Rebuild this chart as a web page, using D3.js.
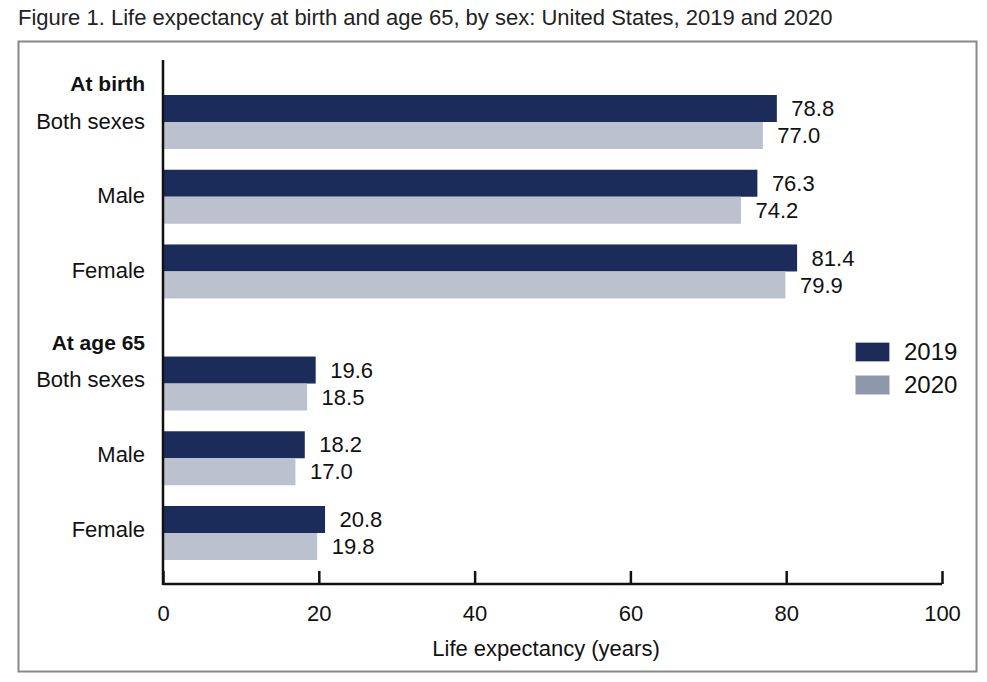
<!DOCTYPE html>
<html><head><meta charset="utf-8">
<script src="https://cdn.jsdelivr.net/npm/d3@7"></script>
<style>body{margin:0;background:#fff;} text{font-family:"Liberation Sans",Arial,sans-serif;}</style>
</head><body>
<svg id="c" width="987" height="682"></svg>
<script>
const sections = ["At birth", "At age 65"];
const categories = ["Both sexes", "Male", "Female"];
const years = ["2019", "2020"];
const values2019 = [[78.8, 76.3, 81.4], [19.6, 18.2, 20.8]];
const values2020 = [[77.0, 74.2, 79.9], [18.5, 17.0, 19.8]];
const xTicks = [0, 20, 40, 60, 80, 100];
const barColors = {"2019": "#1b2c5a", "2020": "#bcc1ce"};
const legendColors = {"2019": "#1b2c5a", "2020": "#8f97ad"};

const svg = d3.select("#c");
svg.append("text").attr("x", 18).attr("y", 25).attr("font-size", 22).attr("fill", "#222")
  .text("Figure 1. Life expectancy at birth and age 65, by sex: United States, 2019 and 2020");
svg.append("rect").attr("x", 18.5).attr("y", 41.5).attr("width", 958).attr("height", 630)
  .attr("fill", "none").attr("stroke", "#888").attr("stroke-width", 2);

const x = d3.scaleLinear().domain([0, 100]).range([163, 942]);
// slot index per row: sections separated by an extra half step
const rows = [];
sections.forEach((s, si) => categories.forEach((c, ci) => rows.push({
  section: s, si: si, cat: c, slot: si * 3.5 + ci, v2019: values2019[si][ci], v2020: values2020[si][ci]})));
const y = d3.scaleLinear().domain([0, 5.5]).range([95, 506]);
const barH = 27;

const g = svg.append("g");
rows.forEach(r => {
  const y0 = y(r.slot);
  g.append("rect").attr("x", x(0)).attr("y", y0).attr("width", x(r.v2019) - x(0)).attr("height", barH)
    .attr("fill", barColors["2019"]);
  g.append("rect").attr("x", x(0)).attr("y", y0 + barH).attr("width", x(r.v2020) - x(0)).attr("height", barH)
    .attr("fill", barColors["2020"]);
  g.append("text").attr("x", x(r.v2019) + 14.5).attr("y", y0 + barH / 2).attr("dy", "0.35em")
    .attr("font-size", 22).attr("fill", "#111").text(r.v2019.toFixed(1));
  g.append("text").attr("x", x(r.v2020) + 14.5).attr("y", y0 + barH * 1.5).attr("dy", "0.35em")
    .attr("font-size", 22).attr("fill", "#111").text(r.v2020.toFixed(1));
  g.append("text").attr("x", 145).attr("y", y0 + barH - (r.si ? 4 : 1)).attr("dy", "0.35em").attr("text-anchor", "end")
    .attr("font-size", 22).attr("fill", "#111").text(r.cat);
});
sections.forEach((s, si) => {
  g.append("text").attr("x", 145).attr("y", y(si * 3.5) - (si ? 14 : 11)).attr("dy", "0.35em").attr("text-anchor", "end")
    .attr("font-size", 21).attr("font-weight", "bold").attr("fill", "#111").text(s);
});

// axes
svg.append("line").attr("x1", x(0)).attr("x2", x(0)).attr("y1", 60).attr("y2", 585)
  .attr("stroke", "#111").attr("stroke-width", 2.5);
const ax = svg.append("g").attr("transform", "translate(0,584)")
  .call(d3.axisBottom(x).tickValues(xTicks).tickSize(-13).tickPadding(18));
ax.select(".domain").attr("stroke", "#111").attr("stroke-width", 2.5).attr("d", `M${x(0)},0H${x(100)}`);
ax.selectAll(".tick line").attr("stroke", "#111").attr("stroke-width", 2.5);
ax.selectAll(".tick text").attr("font-size", 22).attr("fill", "#111").attr("font-family", "Liberation Sans, Arial, sans-serif")
  .attr("dy", "0.35em").attr("y", 29);
svg.append("text").attr("x", 546).attr("y", 648).attr("dy", "0.35em").attr("text-anchor", "middle")
  .attr("font-size", 22).attr("fill", "#111").text("Life expectancy (years)");

// legend
years.forEach((yr, i) => {
  svg.append("rect").attr("x", 855.5).attr("y", 342.5 + i * 33).attr("width", 34).attr("height", 19)
    .attr("fill", legendColors[yr]).attr("stroke", "#ccc").attr("stroke-width", 0.5);
  svg.append("text").attr("x", 904).attr("y", 352 + i * 33).attr("dy", "0.35em")
    .attr("font-size", 24).attr("fill", "#111").text(yr);
});
</script>
</body></html>
